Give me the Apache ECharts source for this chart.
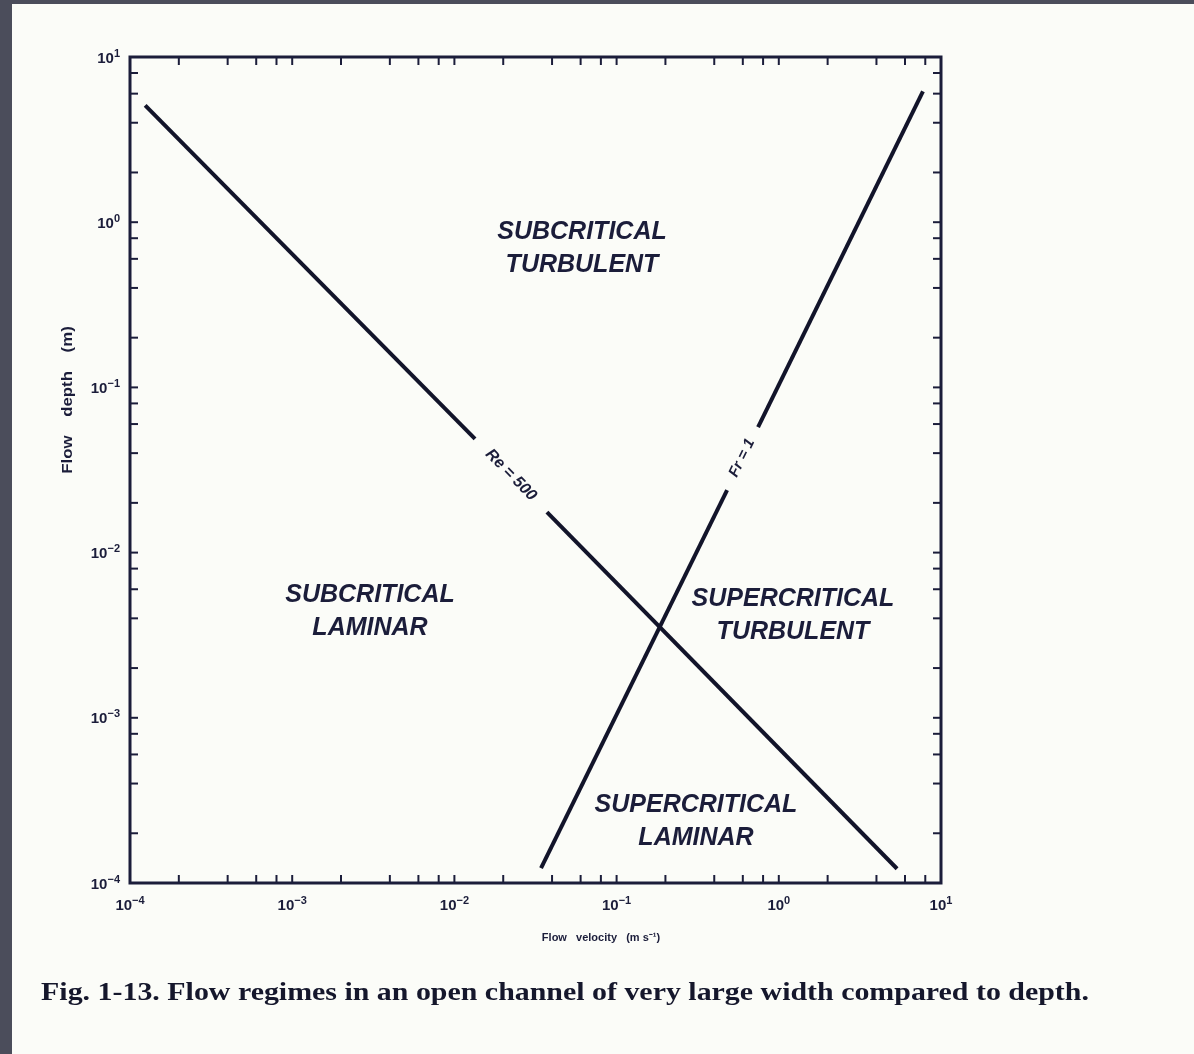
<!DOCTYPE html>
<html>
<head>
<meta charset="utf-8">
<title>Flow regimes in an open channel</title>
<script src="https://cdn.jsdelivr.net/npm/echarts@6/dist/echarts.min.js"></script>
<style>
  html, body { margin: 0; padding: 0; width: 1194px; height: 1054px; background: #4b4d5b; overflow: hidden; }
  #paper { position: absolute; left: 12px; top: 4px; right: 0; bottom: 0; background: #fbfcf8; }
  #chart { position: absolute; left: 0; top: 0; width: 1194px; height: 1054px; }
</style>
</head>
<body>
<div id="paper"></div>
<div id="chart"></div>
<script>
// velocity (m/s), depth (m), both axes log10
const reLower = [[1.24e-4, 5.1], [0.0134, 0.0488]]
const reUpper = [[0.0372, 0.0176], [5.36, 1.22e-4]]
const frLower = [[0.0342, 1.23e-4], [0.48, 0.0239]]
const frUpper = [[0.745, 0.0575], [7.74, 6.2]]
const reLabelAt = [0.0223, 0.0295]
const frLabelAt = [0.593, 0.0374]

const axisRange = [1e-4, 10]
const tickValues = [
  1e-4, 2e-4, 4e-4, 6e-4, 8e-4,
  1e-3, 2e-3, 4e-3, 6e-3, 8e-3,
  0.01, 0.02, 0.04, 0.06, 0.08,
  0.1, 0.2, 0.4, 0.6, 0.8,
  1, 2, 4, 6, 8,
  10
]

const regionLabels = [
  { text: 'SUBCRITICAL\nTURBULENT', x: 582, y: 249 },
  { text: 'SUBCRITICAL\nLAMINAR', x: 370, y: 612 },
  { text: 'SUPERCRITICAL\nTURBULENT', x: 793, y: 616 },
  { text: 'SUPERCRITICAL\nLAMINAR', x: 696, y: 822 }
]

const INK = '#1b1d3a'
const TICK = 8
const tickStyle = { stroke: INK, lineWidth: 2 }

function powerLabel (v) {
  const e = Math.round(Math.log10(v))
  return '{b|10}{s|' + (e < 0 ? '\u2212' + (-e) : e) + '}'
}

const labelRich = {
  b: { fontSize: 15, fontWeight: 'bold', fontFamily: 'Liberation Sans', color: INK, lineHeight: 18, verticalAlign: 'bottom' },
  s: { fontSize: 11, fontWeight: 'bold', fontFamily: 'Liberation Sans', color: INK, lineHeight: 6, verticalAlign: 'top' }
}

function xTick (params, api) {
  const v = api.value(0)
  const b = api.coord([v, axisRange[0]])
  const t = api.coord([v, axisRange[1]])
  return {
    type: 'group',
    children: [
      { type: 'line', shape: { x1: b[0], y1: b[1], x2: b[0], y2: b[1] - TICK }, style: tickStyle },
      { type: 'line', shape: { x1: t[0], y1: t[1], x2: t[0], y2: t[1] + TICK }, style: tickStyle }
    ]
  }
}

function yTick (params, api) {
  const v = api.value(1)
  const l = api.coord([axisRange[0], v])
  const r = api.coord([axisRange[1], v])
  return {
    type: 'group',
    children: [
      { type: 'line', shape: { x1: l[0], y1: l[1], x2: l[0] + TICK, y2: l[1] }, style: tickStyle },
      { type: 'line', shape: { x1: r[0], y1: r[1], x2: r[0] - TICK, y2: r[1] }, style: tickStyle }
    ]
  }
}

function lineSeries (data) {
  return {
    type: 'line',
    data: data,
    symbol: 'none',
    lineStyle: { color: '#12142a', width: 4 },
    silent: true
  }
}

function lineLabel (at, text, angle, size) {
  return {
    type: 'scatter',
    data: [at],
    symbolSize: 0,
    itemStyle: { color: INK },
    label: {
      show: true,
      position: 'inside',
      formatter: text,
      rotate: angle,
      fontSize: size,
      fontStyle: 'italic',
      fontWeight: 'bold',
      fontFamily: 'Liberation Sans',
      color: INK,
      textBorderWidth: 0,
      opacity: 1
    },
    silent: true
  }
}

const chart = echarts.init(document.getElementById('chart'))

const option = {
  animation: false,
  backgroundColor: 'transparent',
  grid: {
    left: 130, top: 57, width: 811, height: 826,
    show: true, borderColor: INK, borderWidth: 3, backgroundColor: 'transparent'
  },
  xAxis: {
    type: 'log', logBase: 10, min: axisRange[0], max: axisRange[1],
    axisLine: { show: false }, axisTick: { show: false }, splitLine: { show: false },
    axisLabel: { margin: 12, formatter: powerLabel, rich: labelRich }
  },
  yAxis: {
    type: 'log', logBase: 10, min: axisRange[0], max: axisRange[1],
    axisLine: { show: false }, axisTick: { show: false }, splitLine: { show: false },
    axisLabel: { margin: 10, formatter: powerLabel, rich: labelRich }
  },
  series: [
    lineSeries(reLower),
    lineSeries(reUpper),
    lineSeries(frLower),
    lineSeries(frUpper),
    lineLabel(reLabelAt, 'Re = 500', -45.5, 16),
    lineLabel(frLabelAt, 'Fr = 1', 63.9, 15),
    { type: 'custom', renderItem: xTick, data: tickValues.map(v => [v, axisRange[0]]), silent: true },
    { type: 'custom', renderItem: yTick, data: tickValues.map(v => [axisRange[0], v]), silent: true }
  ],
  graphic: [
    ...regionLabels.map(r => ({
      type: 'text',
      x: r.x,
      y: r.y,
      silent: true,
      style: {
        text: r.text,
        font: 'italic bold 25px "Liberation Sans"',
        fill: INK,
        align: 'center',
        verticalAlign: 'middle',
        lineHeight: 33
      }
    })),
    {
      type: 'text', x: 601, y: 938, silent: true,
      style: { text: 'Flow   velocity   (m s\u207B\u00B9)', font: 'bold 11px "Liberation Sans"', fill: INK, align: 'center', verticalAlign: 'middle' }
    },
    {
      type: 'text', x: 68, y: 400, rotation: Math.PI / 2, scaleX: 1.2, silent: true,
      style: { text: 'Flow    depth    (m)', font: 'bold 14px "Liberation Sans"', fill: INK, align: 'center', verticalAlign: 'middle' }
    },
    {
      type: 'text', x: 565, y: 993, scaleX: 1.15, silent: true,
      style: { text: 'Fig. 1-13. Flow regimes in an open channel of very large width compared to depth.', font: 'bold 26px "Liberation Serif"', fill: '#15172c', align: 'center', verticalAlign: 'middle' }
    }
  ]
}

chart.setOption(option)
</script>
</body>
</html>
